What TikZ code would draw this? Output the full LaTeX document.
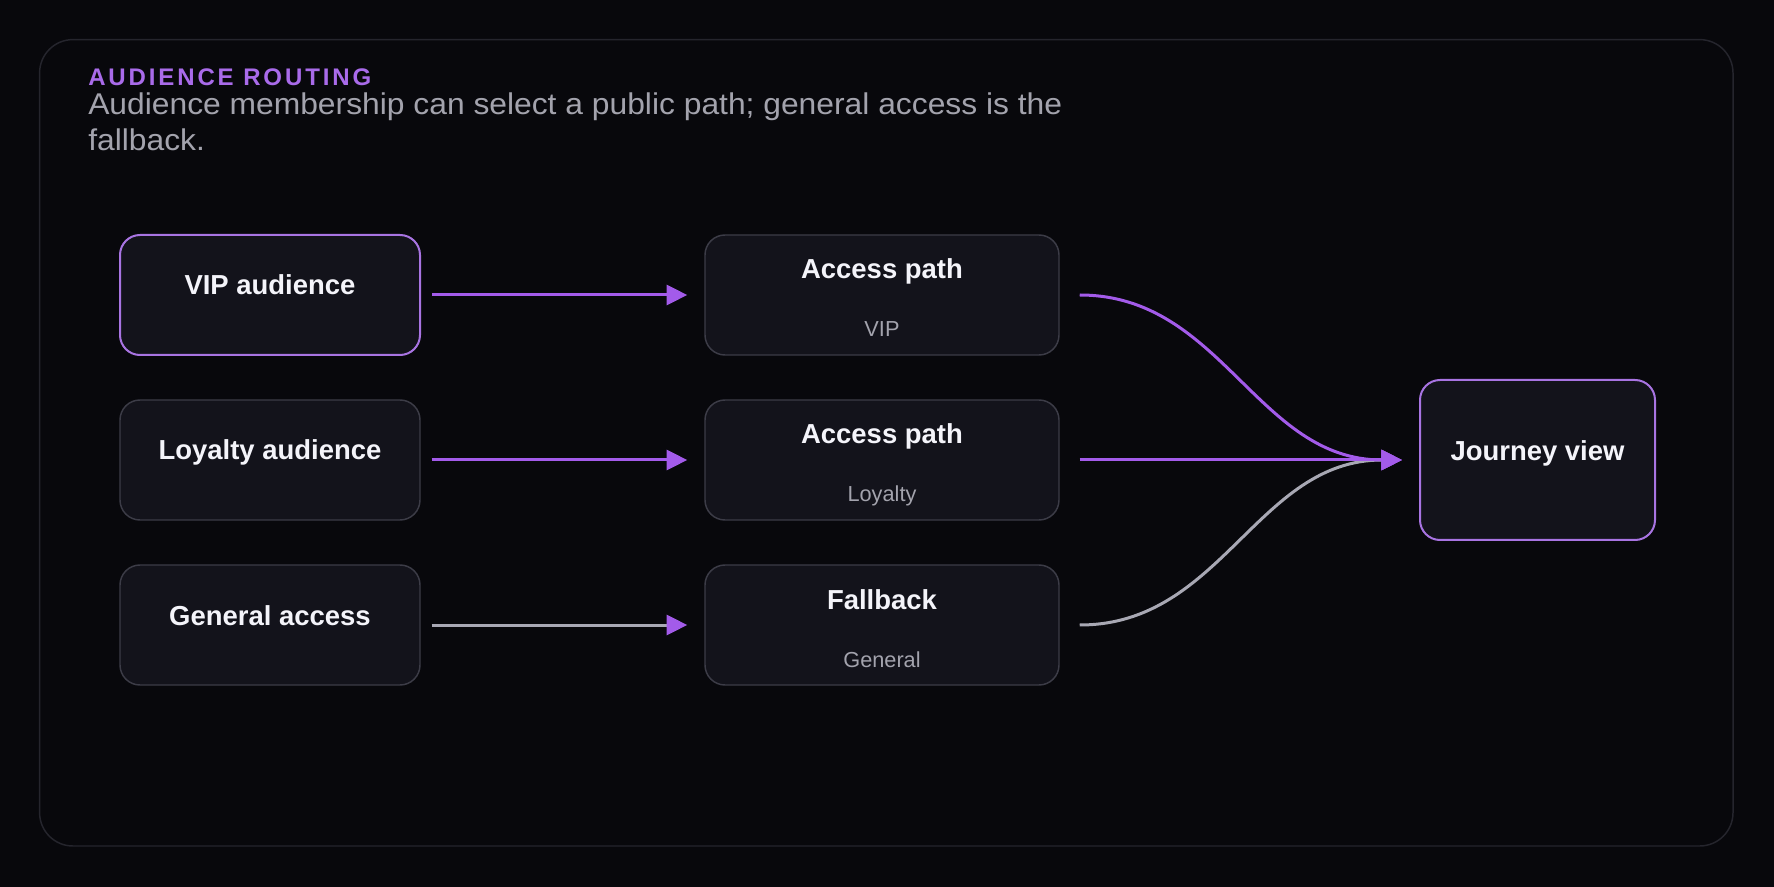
\documentclass[tikz,border=0pt]{standalone}
\usepackage{fontspec}
\setmainfont{Liberation Sans}
\newfontfamily\spacedfont{Liberation Sans}[LetterSpace=12]
\newfontfamily\widefont{Liberation Sans}[FakeStretch=1.06]
\usetikzlibrary{arrows.meta,calc}
\definecolor{bg}{HTML}{08080C}
\definecolor{framec}{HTML}{25252D}
\definecolor{nodefill}{HTML}{13131B}
\definecolor{nodeborder}{HTML}{3C3C47}
\definecolor{hiborder}{HTML}{A874E2}
\definecolor{accent}{HTML}{A35BEA}
\definecolor{titlec}{HTML}{A96BEA}
\definecolor{txt}{HTML}{F4F4FA}
\definecolor{subc}{HTML}{A3A3AD}
\definecolor{greyline}{HTML}{A8A8B4}
\begin{document}
\begin{tikzpicture}[x=0.75pt,y=-0.75pt,
  box/.style={draw=nodeborder, line width=1.1pt, fill=nodefill, rounded corners=15pt,
    minimum width=225pt, minimum height=90pt, inner sep=0pt},
  hbox/.style={box, draw=hiborder, line width=1.5pt},
  midbox/.style={box, minimum width=265.5pt},
  ttl/.style={text=txt, font=\bfseries\fontsize{20.6pt}{24pt}\selectfont, anchor=base, inner sep=0pt},
  subt/.style={text=subc, font=\fontsize{16.3pt}{20pt}\selectfont, anchor=base, inner sep=0pt},
  link/.style={line width=2.25pt, draw=accent, -{Triangle[length=15.5pt,width=15pt]}},
  glink/.style={line width=2.25pt, draw=greyline, -{Triangle[length=15.5pt,width=15pt,color=accent]}},
]
\useasboundingbox (0,0) rectangle (1774,887);
\fill[bg] (0,0) rectangle (1774,887);
\draw[framec, line width=1.1pt, rounded corners=25pt] (39.6,39.6) rectangle (1733,846);

\node[anchor=base west, inner sep=0pt, text=titlec, font=\spacedfont\bfseries\fontsize{18pt}{20pt}\selectfont] (title) at (88,86) {AUDIENCE ROUTING};
\node[anchor=base west, inner sep=0pt, text=subc, font=\widefont\fontsize{22.5pt}{27pt}\selectfont] (sub1) at (88,114.5) {Audience membership can select a public path; general access is the};
\node[anchor=base west, inner sep=0pt, text=subc, font=\widefont\fontsize{22.5pt}{27pt}\selectfont] (sub2) at (88,150.5) {fallback.};

% boxes
\node[hbox] (vip) at (270,295) {};
\node[box] (loy) at (270,460) {};
\node[box] (gen) at (270,625) {};
\node[midbox] (apv) at (882,295) {};
\node[midbox] (apl) at (882,460) {};
\node[midbox] (fb) at (882,625) {};
\node[hbox, minimum width=176.25pt, minimum height=120pt] (jv) at (1537.5,460) {};

% labels
\node[ttl] (vipt) at (270,295) {VIP audience};
\node[ttl] (loyt) at (270,460) {Loyalty audience};
\node[ttl] (gent) at (270,625) {General access};
\node[ttl] (apvt) at (882,279) {Access path};
\node[subt] (apvs) at (882,337) {VIP};
\node[ttl] (aplt) at (882,444) {Access path};
\node[subt] (apls) at (882,502) {Loyalty};
\node[ttl] (fbt) at (882,609) {Fallback};
\node[subt] (fbs) at (882,667) {General};
\node[ttl] (jvt) at (1537.5,461) {Journey view};

% connectors
\draw[link, shorten <=8.25pt, shorten >=12.75pt] (vip) -- (apv);
\draw[link, shorten <=8.25pt, shorten >=12.75pt] (loy) -- (apl);
\draw[glink, shorten <=8.25pt, shorten >=12.75pt] (gen) -- (fb);
\draw[glink, shorten <=15pt, shorten >=12.75pt] (fb.east) to[out=0,in=180,looseness=1.05] (jv.west);
\draw[link, shorten <=15pt, shorten >=12.75pt] (apv.east) to[out=0,in=180,looseness=1.05] (jv.west);
\draw[link, shorten <=15pt, shorten >=12.75pt] (apl) -- (jv);
\end{tikzpicture}
\end{document}
